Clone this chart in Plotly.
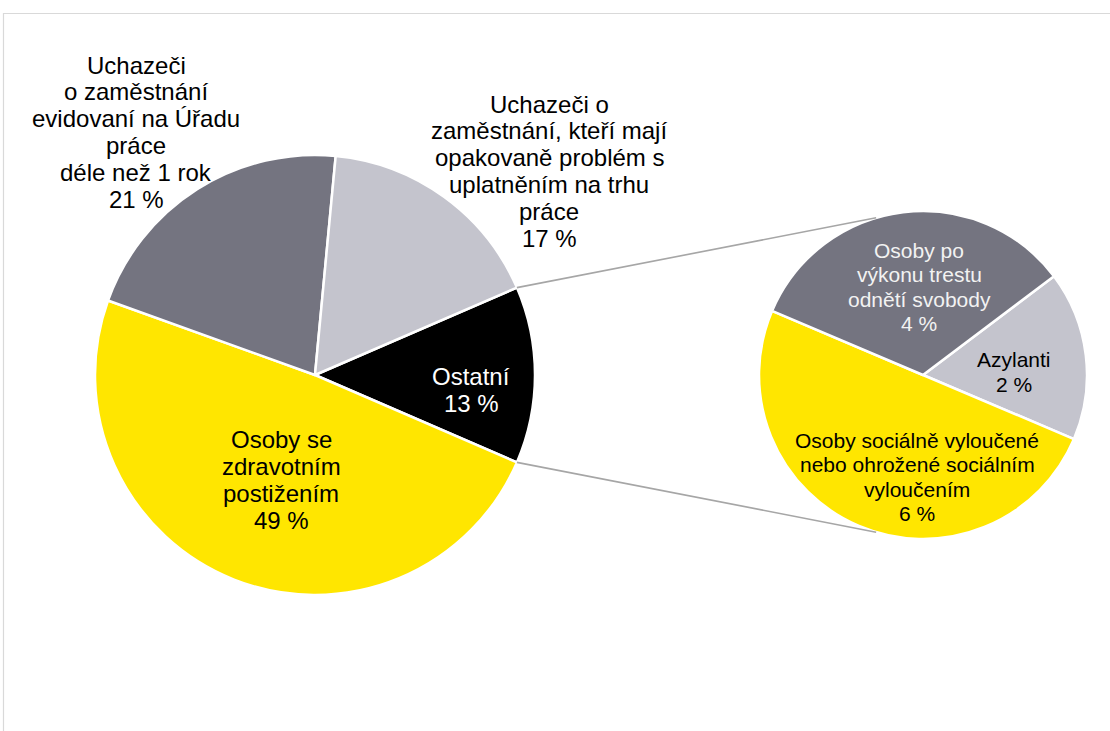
import math
import plotly.graph_objects as go

W, H = 1110, 731

# ---- data ----
main_labels = ["Ostatní", "Osoby se zdravotním postižením",
               "Uchazeči o zaměstnání evidovaní na Úřadu práce déle než 1 rok",
               "Uchazeči o zaměstnání, kteří mají opakovaně problém s uplatněním na trhu práce"]
main_values = [13, 49, 21, 17]
main_colors = ["#000000", "#FFE600", "#747480", "#C4C4CD"]

sub_labels = ["Azylanti", "Osoby sociálně vyloučené nebo ohrožené sociálním vyloučením",
              "Osoby po výkonu trestu odnětí svobody"]
sub_values = [2, 6, 4]
sub_colors = ["#C4C4CD", "#FFE600", "#747480"]

main_text = [
    ["Ostatní", "13 %"],
    ["Osoby se", "zdravotním", "postižením", "49 %"],
    ["Uchazeči", "o zaměstnání", "evidovaní na Úřadu", "práce", "déle než 1 rok", "21 %"],
    ["Uchazeči o", "zaměstnání, kteří mají", "opakovaně problém s", "uplatněním na trhu", "práce", "17 %"],
]
sub_text = [
    ["Azylanti", "2 %"],
    ["Osoby sociálně vyloučené", "nebo ohrožené sociálním", "vyloučením", "6 %"],
    ["Osoby po", "výkonu trestu", "odnětí svobody", "4 %"],
]

# ---- geometry (pixels) ----
c1, r1 = (315, 375), 220
c2, r2 = (923, 375), 164

def px(x):
    return x / W

def py(y):
    return 1 - y / H

total_main = sum(main_values)
other_share = main_values[0] / total_main
half_deg = other_share * 360 / 2
rot_main = 90 - half_deg  # first slice (Ostatní) centred at 3 o'clock

rot_sub = 53

fig = go.Figure()
fig.add_trace(go.Pie(
    labels=main_labels, values=main_values, sort=False, direction="clockwise",
    rotation=rot_main, textinfo="none", showlegend=False,
    marker=dict(colors=main_colors, line=dict(color="white", width=2.5)),
    domain=dict(x=[px(c1[0] - r1), px(c1[0] + r1)], y=[py(c1[1] + r1), py(c1[1] - r1)]),
))
fig.add_trace(go.Pie(
    labels=sub_labels, values=sub_values, sort=False, direction="clockwise",
    rotation=rot_sub, textinfo="none", showlegend=False,
    marker=dict(colors=sub_colors, line=dict(color="white", width=2.5)),
    domain=dict(x=[px(c2[0] - r2), px(c2[0] + r2)], y=[py(c2[1] + r2), py(c2[1] - r2)]),
))

# connector lines
a = math.radians(half_deg)
b = math.radians(106.6)
for s in (1, -1):
    x0 = c1[0] + r1 * math.cos(a)
    y0 = c1[1] - s * r1 * math.sin(a)
    x1 = c2[0] + r2 * math.cos(b)
    y1 = c2[1] - s * r2 * math.sin(b)
    fig.add_shape(type="line", xref="paper", yref="paper",
                  x0=px(x0), y0=py(y0), x1=px(x1), y1=py(y1),
                  line=dict(color="#A6A6A6", width=1.6))

# frame
fig.add_shape(type="rect", xref="paper", yref="paper",
              x0=px(3.5), y0=-0.05, x1=1.05, y1=py(13.5),
              line=dict(color="#D9D9D9", width=1.2))

FONT = "Liberation Sans, Arial, sans-serif"

def add_label(lines, cx, cy, size, spacing, color):
    n = len(lines)
    for i, t in enumerate(lines):
        yy = cy + (i - (n - 1) / 2) * spacing
        fig.add_annotation(x=px(cx), y=py(yy), xref="paper", yref="paper",
                           text=t, showarrow=False, xanchor="center", yanchor="middle",
                           font=dict(family=FONT, size=size, color=color))

main_pos = [(471, 390), (281, 480), (136, 132), (549, 171)]
main_tcol = ["#FFFFFF", "#000000", "#000000", "#000000"]
for lines, (x, y), col in zip(main_text, main_pos, main_tcol):
    add_label(lines, x, y, 24, 26.8, col)

sub_pos = [(1014, 372), (917, 477), (919, 287)]
sub_tcol = ["#000000", "#000000", "#F2F2F2"]
for lines, (x, y), col in zip(sub_text, sub_pos, sub_tcol):
    add_label(lines, x, y, 21, 24.5, col)

fig.update_layout(width=W, height=H, margin=dict(l=0, r=0, t=0, b=0),
                  paper_bgcolor="white", plot_bgcolor="white",
                  font=dict(family=FONT))
fig.write_html("out.html", config={"displayModeBar": False},
               post_script="document.body.style.margin='0';document.body.style.overflow='hidden';")
